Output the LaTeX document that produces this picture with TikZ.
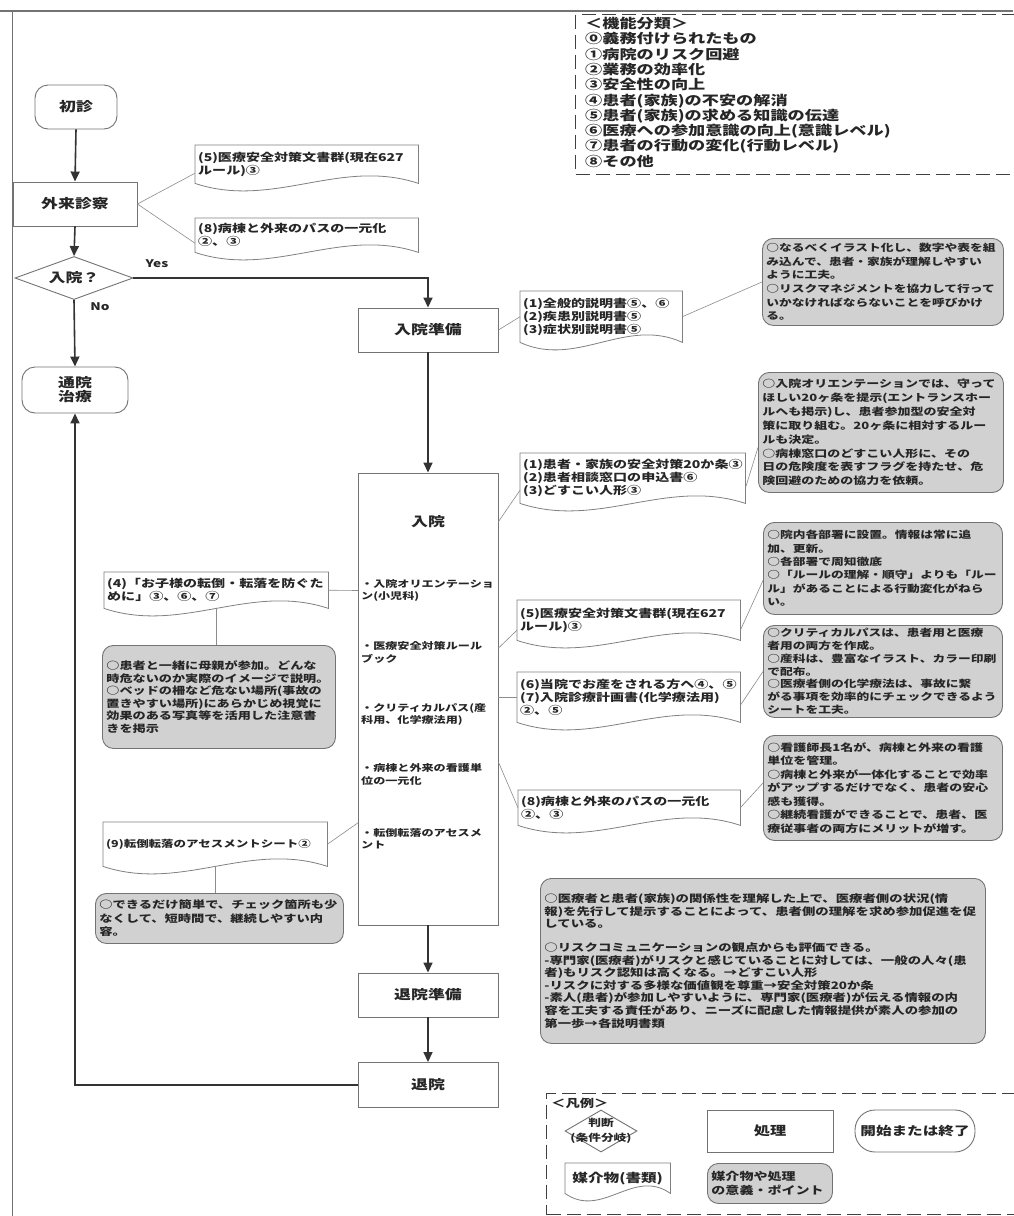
\documentclass[tikz,border=0pt]{standalone}
\usepackage{fontspec}
\setmainfont{Noto Sans CJK JP}[FakeStretch=1.3]
\usetikzlibrary{arrows.meta,shapes.geometric,calc}
\tikzset{
  jbox/.style={draw=black!55, line width=0.9pt, fill=white, inner sep=0pt, text=black!85, font=\fontsize{13}{14}\selectfont},
  jproc/.style={jbox, rectangle},
  jterm/.style={jbox, rounded corners=13pt},
  jdoc/.style={inner xsep=3pt, inner ysep=0pt, text=black!85, font=\fontsize{10.8}{12.8}\selectfont},
  jdocline/.style={draw=black!50, line width=0.8pt},
  jbub/.style={draw=black!55, line width=0.9pt, fill=black!18, rounded corners=11pt, inner xsep=4pt, inner ysep=0pt, text=black!85},
  jarr/.style={draw=black!80, line width=1.6pt, -{Triangle[length=10pt,width=9pt]}},
  jconn/.style={draw=black!45, line width=0.6pt},
  jleg/.style={draw=black!75, line width=1.3pt, dash pattern=on 14pt off 6pt},
  jitem/.style={anchor=north west, align=left, text width=134pt, inner xsep=3pt, inner ysep=2pt, text=black!85, font=\fontsize{9.3}{12.8}\selectfont},
}
\newcommand\docu[6]{%
  \pgfmathsetmacro\dW{#4-#2}\pgfmathsetmacro\dH{#5-#3}\pgfmathsetmacro\dT{#4-#2-6}%
  \node[jdoc, anchor=north west, minimum width=\dW pt, minimum height=\dH pt] (#1) at (#2,#3) {\parbox{\dT pt}{#6}};
  \draw[jdocline] (#1.north west) -- (#1.north east) -- (#1.south east)
    .. controls ($(#1.south east)!0.35!(#1.south west)+(0,-26)$) and ($(#1.south east)!0.65!(#1.south west)+(0,26)$) .. (#1.south west) -- cycle;
}
\newcommand\bub[6]{%
  \pgfmathsetmacro\dW{#4-#2}\pgfmathsetmacro\dH{#5-#3}\pgfmathsetmacro\dT{#4-#2-8}%
  \node[jbub, anchor=north west, minimum width=\dW pt, minimum height=\dH pt] (#1) at (#2,#3) {\parbox{\dT pt}{#6}};
}
\begin{document}
\bfseries
\begin{tikzpicture}[x=1pt,y=-1pt]
\useasboundingbox (0,0) rectangle (1013,1216);
\fill[white] (0,0) rectangle (1013,1216);
% page frame lines
\draw[black!55, line width=1.2pt] (0,11) -- (1013,11);
\draw[black!55, line width=1pt] (12,11) -- (12,1216);

% top legend
\node[jleg, anchor=north west, minimum width=450pt, minimum height=160pt, inner sep=0pt] (leg1) at (575,14) {};
\node[anchor=north west, inner sep=0pt, align=left, text=black!85, font=\fontsize{13.2}{15.3}\selectfont] (kinou) at (585,17) {＜機能分類＞\\⓪義務付けられたもの\\①病院のリスク回避\\②業務の効率化\\③安全性の向上\\④患者(家族)の不安の解消\\⑤患者(家族)の求める知識の伝達\\⑥医療への参加意識の向上(意識レベル)\\⑦患者の行動の変化(行動レベル)\\⑧その他};

% main flow
\node[jterm, minimum width=82pt, minimum height=44pt] (shoshin) at (76,107) {初診};
\node[jproc, minimum width=124pt, minimum height=44pt] (gairai) at (75,204) {外来診察};
\node[draw=black!55, line width=0.9pt, fill=white, diamond, minimum width=118pt, minimum height=43pt, inner sep=0pt] (q) at (74,278) {};
\node[text=black!85, font=\fontsize{13}{14}\selectfont] (qt) at (q) {入院？};
\node[jterm, minimum width=106pt, minimum height=46pt, align=center, font=\fontsize{13}{14}\selectfont] (tsuin) at (75,390) {通院\\治療};
\node[jproc, minimum width=140pt, minimum height=44pt] (junbi) at (428,330) {入院準備};
\node[jproc, minimum width=140pt, minimum height=452pt] (nyuin) at (428,699) {};
\node[jproc, minimum width=140pt, minimum height=44pt] (taiinj) at (428,995) {退院準備};
\node[jproc, minimum width=140pt, minimum height=45pt] (taiin) at (428,1085) {退院};

\node[text=black!85, font=\fontsize{13}{14}\selectfont, minimum width=140pt, inner sep=0pt] (nyt) at (428,522) {入院};
\node[jitem] (it1) at (358,577) {・入院オリエンテーショ\\ン(小児科)};
\node[jitem] (it2) at (358,639) {・医療安全対策ルール\\ブック};
\node[jitem] (it3) at (358,701) {・クリティカルパス(産\\科用、化学療法用)};
\node[jitem] (it4) at (358,761) {・病棟と外来の看護単\\位の一元化};
\node[jitem] (it5) at (358,826) {・転倒転落のアセスメ\\ント};

\draw[jarr] (shoshin.south) -- (gairai.north);
\draw[jarr] (gairai.south) -- (q.north);
\draw[jarr] (q.south) -- (tsuin.north);
\draw[jarr] (q.east) -| (junbi.north);
\draw[jarr] (junbi.south) -- (nyuin.north);
\draw[jarr] (nyuin.south) -- (taiinj.north);
\draw[jarr] (taiinj.south) -- (taiin.north);
\draw[jarr] (taiin.west) -| (tsuin.south);
\node[text=black!85, font=\fontsize{10.5}{12}\selectfont] (yes) at (157,264) {Yes};
\node[text=black!85, font=\fontsize{10.5}{12}\selectfont] (no) at (100,307) {No};

% documents
\docu{docA}{195}{145}{418}{183}{(5)医療安全対策文書群(現在627\\ルール)③}
\docu{docB}{195}{218}{418}{252}{(8)病棟と外来のパスの一元化\\②、③}
\docu{docC}{520}{291}{682}{342}{(1)全般的説明書⑤、⑥\\(2)疾患別説明書⑤\\(3)症状別説明書⑤}
\docu{docD}{520}{453}{745}{503}{(1)患者・家族の安全対策20か条③\\(2)患者相談窓口の申込書⑥\\(3)どすこい人形③}
\docu{docE}{517}{600}{740}{640}{(5)医療安全対策文書群(現在627\\ルール)③}
\docu{docF}{517}{672}{740}{722}{(6)当院でお産をされる方へ④、⑤\\(7)入院診療計画書(化学療法用)\\②、⑤}
\docu{docG}{518}{790}{740}{825}{(8)病棟と外来のパスの一元化\\②、③}
\docu{docH}{104}{572}{328}{608}{(4)「お子様の転倒・転落を防ぐた\\めに」③、⑥、⑦}
\docu{docI}{103}{822}{327}{866}{\fontsize{9.6}{12}\selectfont (9)転倒転落のアセスメントシート②}

% bubbles
\bub{b1}{762}{238}{1003}{325}{\fontsize{9.8}{13.6}\selectfont ○なるべくイラスト化し、数字や表を組\\み込んで、患者・家族が理解しやすい\\ように工夫。\\○リスクマネジメントを協力して行って\\いかなければならないことを呼びかけ\\る。}
\bub{b2}{758}{372}{1003}{492}{\fontsize{10}{13.9}\selectfont ○入院オリエンテーションでは、守って\\ほしい20ヶ条を提示(エントランスホー\\ルへも掲示)し、患者参加型の安全対\\策に取り組む。20ヶ条に相対するルー\\ルも決定。\\○病棟窓口のどすこい人形に、その\\日の危険度を表すフラグを持たせ、危\\険回避のための協力を依頼。}
\bub{b3}{763}{522}{1002}{614}{\fontsize{9.8}{13.4}\selectfont ○院内各部署に設置。情報は常に追\\加、更新。\\○各部署で周知徹底\\○「ルールの理解・順守」よりも「ルー\\ル」があることによる行動変化がねら\\い。}
\bub{b4}{763}{625}{1002}{717}{\fontsize{9.8}{12.8}\selectfont ○クリティカルパスは、患者用と医療\\者用の両方を作成。\\○産科は、豊富なイラスト、カラー印刷\\で配布。\\○医療者側の化学療法は、事故に繋\\がる事項を効率的にチェックできるよう\\シートを工夫。}
\bub{b5}{763}{735}{1002}{840}{\fontsize{10}{13.5}\selectfont ○看護師長1名が、病棟と外来の看護\\単位を管理。\\○病棟と外来が一体化することで効率\\がアップするだけでなく、患者の安心\\感も獲得。\\○継続看護ができることで、患者、医\\療従事者の両方にメリットが増す。}
\bub{b6}{102}{645}{335}{748}{\fontsize{10.1}{12.6}\selectfont ○患者と一緒に母親が参加。どんな\\時危ないのか実際のイメージで説明。\\○ベッドの柵など危ない場所(事故の\\置きやすい場所)にあらかじめ視覚に\\効果のある写真等を活用した注意書\\きを掲示}
\bub{b7}{95}{893}{343}{943}{\fontsize{10.2}{13.5}\selectfont ○できるだけ簡単で、チェック箇所も少\\なくして、短時間で、継続しやすい内\\容。}
\bub{b8}{540}{878}{985}{1043}{\fontsize{10.3}{12.6}\selectfont ○医療者と患者(家族)の関係性を理解した上で、医療者側の状況(情\\報)を先行して提示することによって、患者側の理解を求め参加促進を促\\している。\\[11pt]○リスクコミュニケーションの観点からも評価できる。\\-専門家(医療者)がリスクと感じていることに対しては、一般の人々(患\\者)もリスク認知は高くなる。→どすこい人形\\-リスクに対する多様な価値観を尊重→安全対策20か条\\-素人(患者)が参加しやすいように、専門家(医療者)が伝える情報の内\\容を工夫する責任があり、ニーズに配慮した情報提供が素人の参加の\\第一歩→各説明書類}

% connectors
\draw[jconn] (gairai.east) -- ([yshift=-9pt]docA.west);
\draw[jconn] (gairai.east) -- ([yshift=-8pt]docB.west);
\draw[jconn] (junbi.east) -- (docC.west);
\draw[jconn] (docC.east) -- (b1.west);
\draw[jconn] (nyt.east) -- ([yshift=-12pt]docD.west);
\draw[jconn] ([yshift=-10pt]docD.east) -- ([yshift=-15pt]b2.west);
\draw[jconn] ([yshift=4pt]it2.east) -- ([yshift=-10pt]docE.west);
\draw[jconn] ([yshift=-10pt]docE.east) -- ([yshift=-12pt]b3.west);
\draw[jconn] (docF.west) -- (docF.west -| nyuin.east);
\draw[jconn] ([yshift=-8pt]docF.east) -- (b4.west);
\draw[jconn] ([yshift=12pt]it4.east) -- (docG.west);
\draw[jconn] (docG.east) -- ([yshift=5pt]b5.west);
\draw[jconn] (it1.west) -- (docH.east);
\draw[jconn] (docH.south) -- (docH.south |- b6.north);
\draw[jconn] ([yshift=16pt]it5.west) -- (docI.east);
\draw[jconn] (docI.south) -- (docI.south |- b7.north);

% bottom legend
\node[jleg, anchor=north west, minimum width=474pt, minimum height=121pt, inner sep=0pt] (leg2) at (546,1093) {};
\node[anchor=north west, inner sep=0pt, text=black!85, font=\fontsize{11}{12}\selectfont] (hanrei) at (551,1098) {＜凡例＞};
\node[draw=black!55, line width=0.9pt, fill=white, diamond, minimum width=72pt, minimum height=42pt, inner sep=0pt] (ldia) at (601,1131) {};
\node[align=center, text=black!85, font=\fontsize{9.8}{15}\selectfont] (ldiat) at (ldia) {判断\\(条件分岐)};
\node[jproc, minimum width=126pt, minimum height=42pt, font=\fontsize{12.5}{14}\selectfont] (lproc) at (770,1131) {処理};
\node[jbox, rounded corners=20pt, minimum width=120pt, minimum height=42pt, font=\fontsize{12}{14}\selectfont] (lterm) at (915,1131) {開始または終了};
\docu{ldoc}{565}{1163}{670}{1193}{\centering\fontsize{12}{14}\selectfont 媒介物(書類)}
\bub{lbub}{707}{1163}{832}{1203}{\fontsize{10.8}{13.5}\selectfont 媒介物や処理\\の意義・ポイント}
\end{tikzpicture}
\end{document}
